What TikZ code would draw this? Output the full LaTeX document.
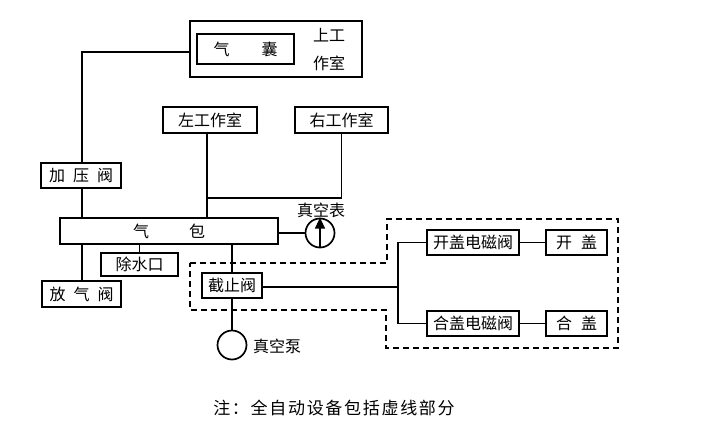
\documentclass[tikz,border=0pt]{standalone}
\usepackage{fontspec}
\setmainfont{Noto Sans CJK SC}
\usetikzlibrary{arrows.meta}
\tikzset{
  box/.style={draw=black,line width=1.7pt,fill=white,inner sep=0pt,font=\fontsize{16}{18}\selectfont,text=black},
  gauge/.style={draw=black,line width=1.7pt,fill=white,circle,inner sep=0pt,minimum size=29pt},
  pipe/.style={draw=black,line width=1.7pt},
  lab/.style={inner sep=0pt,font=\fontsize{16}{18}\selectfont,text=black},
  dashbox/.style={draw=black,line width=1.7pt,dash pattern=on 6pt off 4pt}
}
\newcommand{\bx}[6]{\node[box,minimum width=#4pt,minimum height=#5pt] (#1) at (#2,#3) {#6};}
\begin{document}
\begin{tikzpicture}[x=1pt,y=-1pt]
\useasboundingbox (0,0) rectangle (703,444);
% dashed region
\draw[dashbox] (190,263) -- (387,263) -- (387,219) -- (618,219) -- (618,348) -- (386,348) -- (386,310) -- (190,310) -- cycle;
% coordinates for tapped junctions
\coordinate (tapL) at (207,198);
\coordinate (tapV) at (82,52);
\coordinate (tapD) at (232,244);
\coordinate (tapB) at (398,287);
% boxes
\bx{upper}{276}{49}{172}{56}{}
\bx{bag}{245.5}{49}{97}{30}{气\hspace{32pt}囊}
\bx{left}{210}{120}{94}{26}{左工作室}
\bx{right}{341.5}{120}{93}{26}{右工作室}
\bx{press}{81}{175.5}{80}{25}{加\hspace{8pt}压\hspace{8pt}阀}
\bx{drum}{169}{231}{218}{26}{气\hspace{40pt}包}
\bx{drain}{139.5}{264.5}{77}{23}{除水口}
\bx{vent}{81.5}{294}{79}{26}{放\hspace{8pt}气\hspace{8pt}阀}
\bx{stop}{232}{285.5}{60}{25}{截止阀}
\bx{openv}{473}{242.5}{92}{25}{开盖电磁阀}
\bx{openc}{576.5}{242.5}{61}{25}{开\hspace{9pt}盖}
\bx{closev}{473}{323.5}{92}{25}{合盖电磁阀}
\bx{closec}{576.5}{323.5}{61}{25}{合\hspace{9pt}盖}
\node[gauge] (meter) at (320,233) {};
\node[gauge] (pump) at (232,345) {};
% labels
\node[lab] (up1) at (329,35) {上工};
\node[lab] (up2) at (329,63) {作室};
\node[lab] (mlab) at (321,210) {真空表};
\node[lab] (plab) at (277,346) {真空泵};
\node[inner sep=0pt,font=\fontsize{17}{18}\selectfont\addfontfeature{LetterSpace=10},text=black] (note) at (334,408) {注：全自动设备包括虚线部分};
% connectors
\draw[pipe] (upper.west |- tapV) -- (tapV) -- (tapV |- press.north);
\draw[pipe] (tapV |- press.south) -- (tapV |- drum.north);
\draw[pipe] (tapV |- drum.south) -- (tapV |- vent.north);
\draw[pipe] (tapL |- left.south) -- (tapL |- drum.north);
\draw[pipe] (right.south) -- (right.south |- tapL) -- (tapL);
\draw[pipe] (drum.east |- meter.west) -- (meter.west);
\draw[pipe,-{Triangle[length=11pt,width=10pt]}] (meter.south) -- (meter.north);
\draw[pipe] (drain.north) -- (drain.north |- drum.south);
\draw[pipe] (tapD) -- (stop.north);
\draw[pipe] (stop.south) -- (pump.north);
\draw[pipe] (stop.east |- tapB) -- (tapB);
\draw[pipe] (openv.west) -- (openv.west -| tapB) -- (closev.west -| tapB) -- (closev.west);
\draw[pipe] (openv.east) -- (openc.west);
\draw[pipe] (closev.east) -- (closec.west);
\end{tikzpicture}
\end{document}
